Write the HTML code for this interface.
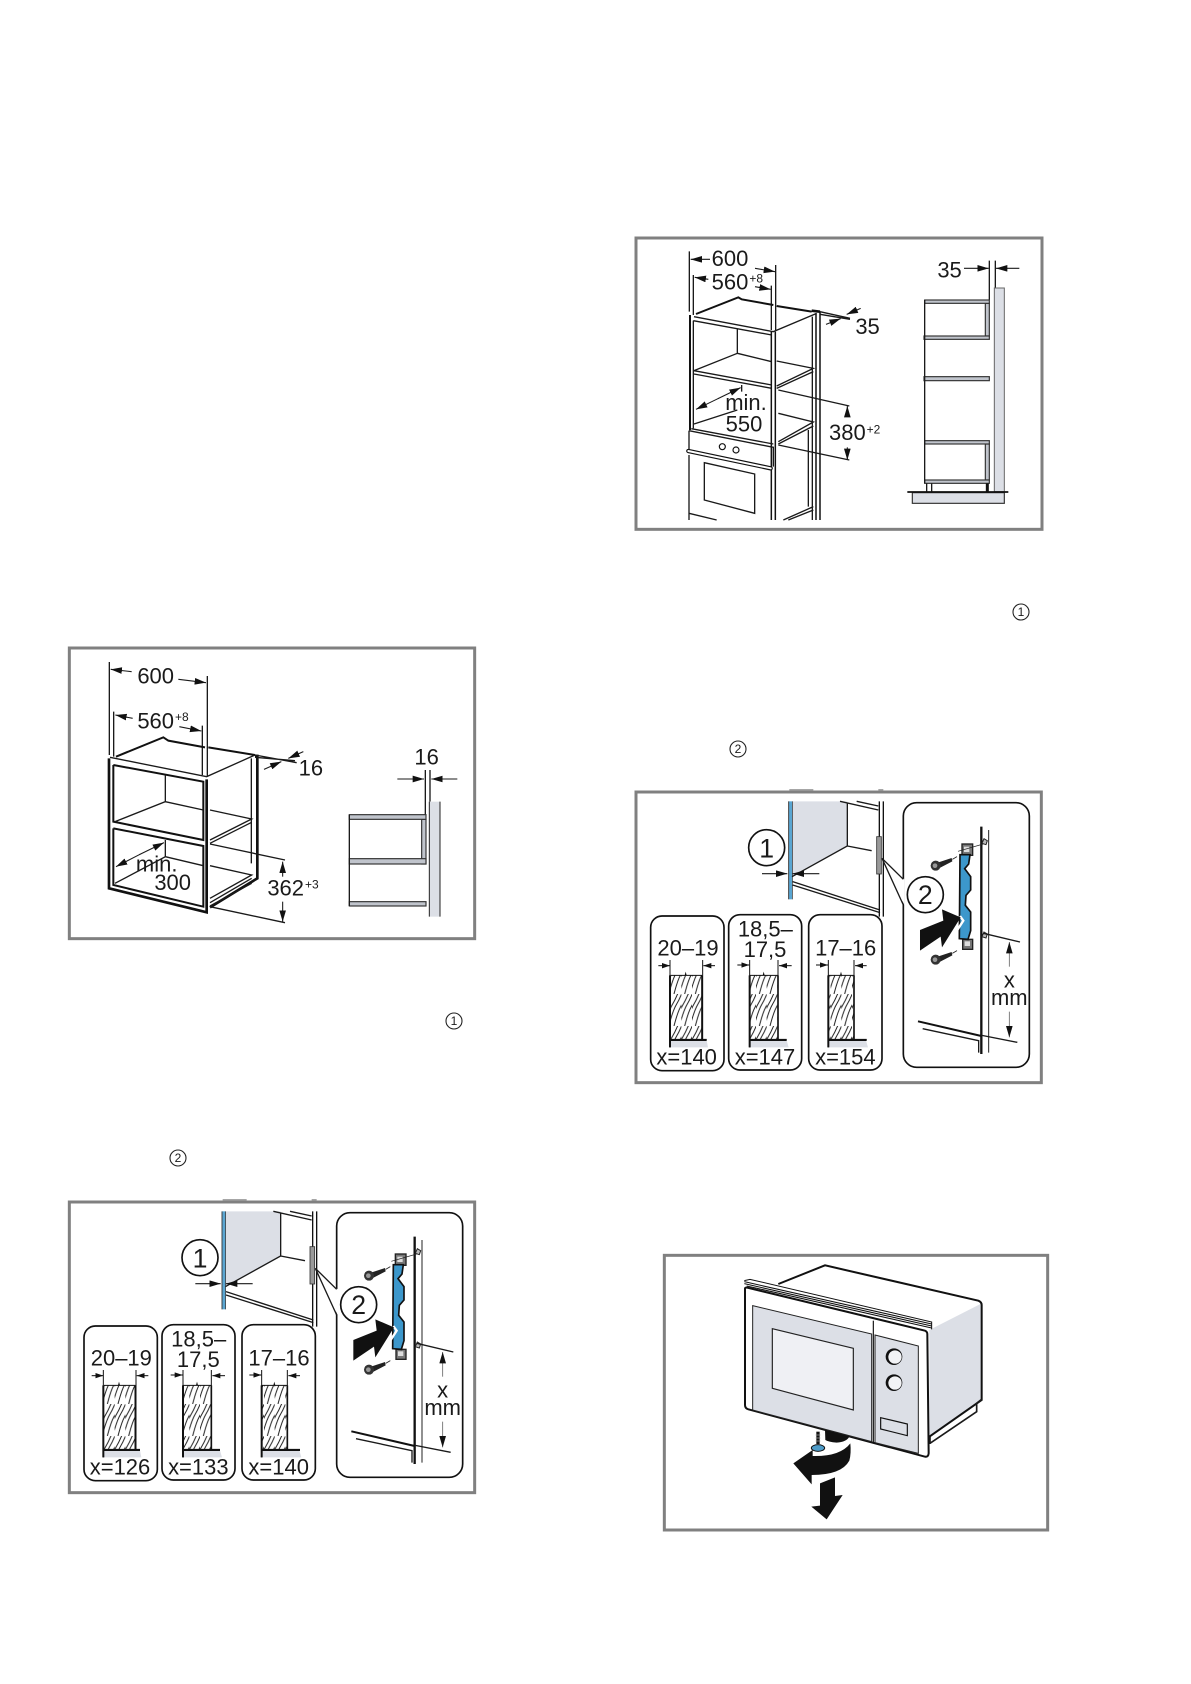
<!DOCTYPE html>
<html><head><meta charset="utf-8"><style>
html,body{margin:0;padding:0;background:#fff}
svg{display:block}
text{font-family:"Liberation Sans",sans-serif;fill:#1a1a1a}
.t{font-size:66px}.m{text-anchor:middle}.s{font-size:36px}.c{font-size:80px;text-anchor:middle}
.l{fill:none;stroke:#1a1a1a;stroke-width:4}
.k{fill:none;stroke:#111;stroke-width:8}
.h{fill:none;stroke:#111;stroke-width:6}
.a{fill:none;stroke:#1a1a1a;stroke-width:3.2;marker-end:url(#ar)}
.b{fill:none;stroke:#1a1a1a;stroke-width:3.2;marker-end:url(#sm)}
.f{fill:#fff;stroke:#808080;stroke-width:9}
.g{fill:#dcdfe6}.sh{fill:#c0c4cc;stroke:#333;stroke-width:3.5}
</style></head><body>
<svg xmlns="http://www.w3.org/2000/svg" width="1191" height="1684" viewBox="0 0 1191 1684">
<defs>
<marker id="ar" markerUnits="userSpaceOnUse" markerWidth="38" markerHeight="22" refX="34" refY="10" orient="auto"><path d="M0 0L34 10L0 20Z" fill="#111"/></marker>
<marker id="sm" markerUnits="userSpaceOnUse" markerWidth="28" markerHeight="18" refX="24" refY="8" orient="auto"><path d="M0 0L24 8L0 16Z" fill="#111"/></marker>
<pattern id="wood" patternUnits="userSpaceOnUse" width="32" height="96"><path d="M-6 96C2 70 6 50 18 30S28 8 34 -2M-20 96C-10 70 -6 50 6 30S16 8 22 -2M10 96C16 74 20 56 30 38S40 14 46 -2" fill="none" stroke="#222" stroke-width="3"/></pattern>
<g id="screw"><path d="M18 -12L60 -26L62 -16L20 6Z" fill="#222"/><path d="M62 -22L76 -30" stroke="#222" stroke-width="2.5"/><ellipse cx="12" cy="-3" rx="15" ry="15" fill="#333"/><ellipse cx="10" cy="-3" rx="7" ry="7" fill="#999"/></g>
<g id="mount">
<rect x="88" y="66" width="1216" height="872" class="f"/>
<path d="M548 60H620M815 60H830" stroke="#999" stroke-width="5"/>
<path class="g" d="M556 94H722V228L556 320Z"/>
<rect x="547" y="94" width="9" height="294" fill="#5aa6d2"/>
<path d="M546 94V388" stroke="#222" stroke-width="2.5"/><path d="M557 94V388" stroke="#222" stroke-width="2"/>
<path class="l" d="M722 100V228L556 320M722 228L795 242M700 94L815 120M750 94L815 108M558 335L820 420M558 345L820 428"/>
<path d="M818 94V440M830 94V440" stroke="#111" stroke-width="4"/>
<rect x="810" y="200" width="14" height="112" fill="#999" stroke="#333" stroke-width="2.5"/>
<circle cx="480" cy="233" r="54" fill="#fff" stroke="#111" stroke-width="5"/>
<path class="a" d="M466 311H542"/><path class="a" d="M638 311H558"/>
<rect x="890" y="98" width="378" height="794" rx="40" fill="#fff" stroke="#111" stroke-width="5"/>
<path d="M826 265L893 328V405Z" fill="#fff"/>
<path class="l" d="M826 265L890 328M826 265L890 405"/>
<circle cx="956" cy="374" r="54" fill="#fff" stroke="#111" stroke-width="5"/>
<path d="M1124 170V852" stroke="#111" stroke-width="7"/><path d="M1146 180V848" stroke="#222" stroke-width="3"/>
<rect x="1066" y="222" width="32" height="34" fill="#777" stroke="#222" stroke-width="4"/><rect x="1072" y="230" width="16" height="16" fill="#ddd"/>
<rect x="1068" y="508" width="30" height="30" fill="#777" stroke="#222" stroke-width="4"/><rect x="1074" y="514" width="16" height="14" fill="#ddd"/>
<path d="M1060 254L1090 254L1086 282L1074 296L1092 320L1092 360L1078 376L1076 406L1092 426L1092 482L1084 508L1058 506Z" fill="#3c97cb" stroke="#111" stroke-width="5"/>
<path d="M1132 206L1142 212L1138 224L1126 220Z" fill="#bbb" stroke="#222" stroke-width="3"/>
<path d="M1132 486L1142 492L1138 504L1126 500Z" fill="#bbb" stroke="#222" stroke-width="3"/>
<path d="M1054 244L1130 222" stroke="#222" stroke-width="2"/>
<path d="M1060 438L1070 452L1052 480" fill="none" stroke="#fff" stroke-width="7"/>
<path d="M940 480L1010 452L1006 418L1062 442L1006 532L1002 500L940 542Z" fill="#111"/>
<use href="#screw" x="975" y="290"/><use href="#screw" x="975" y="572"/>
<path class="l" d="M1130 490L1240 516M1120 795L1232 817"/>
<path d="M1208 590V516" stroke="#666" stroke-width="2.5" fill="none" marker-end="url(#ar)"/>
<path d="M1208 725V802" stroke="#666" stroke-width="2.5" fill="none" marker-end="url(#ar)"/>
<path d="M934 754L1124 798" stroke="#111" stroke-width="6"/><path class="l" d="M948 776L1116 812V848"/>
<rect x="132" y="438" width="220" height="464" rx="34" fill="none" stroke="#111" stroke-width="5"/>
<rect x="366" y="434" width="219" height="466" rx="34" fill="none" stroke="#111" stroke-width="5"/>
<rect x="606" y="434" width="220" height="466" rx="34" fill="none" stroke="#111" stroke-width="5"/>
<rect x="192" y="616" width="94" height="192" fill="url(#wood)"/><rect x="430" y="616" width="84" height="192" fill="url(#wood)"/><rect x="666" y="616" width="76" height="192" fill="url(#wood)"/>
<path class="g" d="M192 811H300L304 832H192ZM430 811H540L546 832H430ZM668 811H778L784 832H668Z"/>
<path d="M190 570V832M190 808H300M288 570V808M192 616H286M429 570V832M429 808H540M514 570V808M430 616H514M665 570V832M665 808H780M742 570V808M666 616H742" stroke="#111" stroke-width="3" fill="none"/>
<path d="M190 616V832M190 810H300M429 616V832M429 810H540M665 616V832M665 810H780" stroke="#111" stroke-width="6" fill="none"/>
<path d="M286 616V808M514 616V808M742 616V808" stroke="#111" stroke-width="5"/>
<path d="M234 616L237 605L240 616M468 616L471 605L474 616M700 616L703 605L706 616" fill="#111"/>
<path class="b" d="M155 587H190"/><path class="b" d="M325 587H290"/><path class="b" d="M392 585H428"/><path class="b" d="M555 587H517"/><path class="b" d="M628 585H664"/><path class="b" d="M780 587H745"/>
</g>
</defs>

<g transform="translate(40,620) scale(.33333)">
<rect x="88" y="84" width="1216" height="872" class="f"/>
<path class="l" d="M208 126V405M502 168V470M221 275V410M487 317V465"/>
<path class="a" d="M275 155L212 148"/><path class="a" d="M415 178L498 188"/><path class="a" d="M278 295L226 285"/><path class="a" d="M418 320L484 333"/>
<path class="h" d="M228 410L370 352L385 362L495 382M505 382L645 405"/>
<path class="l" d="M210 412L500 470L645 405M634 415V730"/>
<path class="k" d="M207 415V805L500 877V478M645 408H652V775L510 862"/>
<path class="h" d="M220 435V605L490 660V485L220 435M220 625V795L490 860V678L220 625"/>
<path class="l" d="M376 465V545L225 605M376 545L490 570M510 570L635 597L510 660M635 607L510 670M376 660V710L225 790M376 710L490 737M510 737L635 765L510 835M635 775L510 848M510 858L635 790"/>
<path class="l" d="M510 672L735 720M510 860L735 908"/>
<path class="a" d="M300 703L228 740"/><path class="a" d="M298 704L372 668"/><path class="a" d="M728 770V725"/><path class="a" d="M728 845V905"/>
<path class="l" d="M645 405L770 428M645 412L765 422"/>
<path class="a" d="M672 448L724 425"/><path class="a" d="M790 395L745 415"/>
<text class="t m" x="347" y="190">600</text>
<text class="t" x="292" y="325">560</text><text class="s" x="405" y="303">+8</text>
<text class="t m" x="350" y="755">min.</text><text class="t m" x="398" y="810">300</text>
<text class="t" x="682" y="827">362</text><text class="s" x="795" y="806">+3</text>
<text class="t" x="776" y="466">16</text><text class="t m" x="1160" y="434">16</text>
<path class="l" d="M1156 450V590M1170 450V545"/>
<path class="a" d="M1072 477H1152"/><path class="a" d="M1252 477H1174"/>
<rect x="1168" y="545" width="32" height="345" class="g"/><path d="M1168 545V890M1200 545V890" stroke="#222" stroke-width="3"/>
<rect x="1145" y="598" width="13" height="134" class="sh"/>
<rect x="928" y="584" width="230" height="14" class="sh"/><rect x="928" y="716" width="230" height="16" class="sh"/><rect x="928" y="845" width="230" height="13" class="sh"/>
<path class="l" d="M928 584V858"/>
</g>

<g transform="translate(40,1180) scale(.33333)">
<use href="#mount"/>
<text class="c" x="480" y="262">1</text><text class="c" x="956" y="402">2</text>
<text class="t m" x="244" y="556">20–19</text><text class="t m" x="476" y="499">18,5–</text><text class="t m" x="475" y="561">17,5</text><text class="t m" x="717" y="556">17–16</text>
<text class="t m" x="240" y="884">x=126</text><text class="t m" x="475" y="884">x=133</text><text class="t m" x="716" y="884">x=140</text>
<text class="t m" x="1208" y="652">x</text><text class="t m" x="1208" y="705">mm</text>
</g>

<g transform="translate(620,780) scale(.33333)">
<g transform="translate(-40,-30)"><use href="#mount"/>
<text class="c" x="480" y="262">1</text><text class="c" x="956" y="402">2</text>
<text class="t m" x="244" y="556">20–19</text><text class="t m" x="476" y="499">18,5–</text><text class="t m" x="475" y="561">17,5</text><text class="t m" x="717" y="556">17–16</text>
<text class="t m" x="240" y="884">x=140</text><text class="t m" x="475" y="884">x=147</text><text class="t m" x="716" y="884">x=154</text>
<text class="t m" x="1208" y="652">x</text><text class="t m" x="1208" y="705">mm</text>
</g></g>

<g transform="translate(620,220) scale(.33333)">
<rect x="48" y="54" width="1218" height="874" class="f"/>
<path class="l" d="M208 94V275M467 135V330M220 165V285M454 197V330"/>
<path class="a" d="M270 118L212 118"/><path class="a" d="M405 145L465 155"/><path class="a" d="M265 178L224 172"/><path class="a" d="M405 200L452 208"/>
<path class="h" d="M228 282L355 232L365 238L460 255M470 258L575 275"/>
<path d="M575 272L600 275" stroke="#111" stroke-width="8"/>
<path class="k" style="stroke-width:6" d="M210 285V630"/>
<path class="l" d="M222 290L460 335L590 280M220 302L455 345M220 302V625M352 325V400L222 452M352 400L455 425M470 423L580 445L470 498M580 455L470 505M222 452L455 495M222 462L455 505M222 612L352 570M475 580L580 606L475 665M580 618L475 672M577 290V900M565 630V860M580 860L490 900M580 870L505 900"/>
<path d="M454 335V900M466 335V900M588 280V900M600 275V900" stroke="#111" stroke-width="4.5" fill="none"/>
<path class="l" d="M207 632L460 682M214 626L460 672M207 632V690M207 705V900M460 680V740M253 728L404 762V880L253 840ZM207 880L290 900"/>
<path d="M205 693L452 745" stroke="#111" stroke-width="13" stroke-linecap="round"/><path d="M205 693L452 745" stroke="#fff" stroke-width="6" stroke-linecap="round"/>
<circle cx="307" cy="680" r="9" fill="#fff" stroke="#111" stroke-width="3.5"/><circle cx="348" cy="690" r="9" fill="#fff" stroke="#111" stroke-width="3.5"/>
<path class="l" d="M475 510L688 558M475 675L688 720M600 275L690 295M600 283L690 298M365 495V515"/>
<path class="a" d="M682 590V558"/><path class="a" d="M682 682V720"/><path class="a" d="M296 535L228 568"/><path class="a" d="M294 536L362 503"/><path class="a" d="M618 313L662 296"/><path class="a" d="M722 265L680 283"/>
<text class="t m" x="330" y="138">600</text>
<text class="t" x="275" y="208">560</text><text class="s" x="388" y="188">+8</text>
<text class="t m" x="378" y="570">min.</text><text class="t m" x="372" y="635">550</text>
<text class="t" x="627" y="660">380</text><text class="s" x="740" y="640">+2</text>
<text class="t" x="706" y="342">35</text><text class="t" x="952" y="172">35</text>
<path class="l" d="M1108 122V240M1126 122V205"/>
<path class="a" d="M1032 145H1106"/><path class="a" d="M1198 145H1128"/>
<rect x="1123" y="204" width="30" height="611" fill="#dcdfe6" stroke="#666" stroke-width="3"/>
<rect x="1096" y="250" width="12" height="98" class="sh"/><rect x="1096" y="672" width="12" height="108" class="sh"/>
<rect x="914" y="240" width="194" height="10" class="sh"/><rect x="912" y="348" width="196" height="10" class="sh"/><rect x="912" y="470" width="196" height="12" class="sh"/><rect x="914" y="662" width="194" height="10" class="sh"/><rect x="914" y="780" width="194" height="10" class="sh"/>
<path class="l" d="M914 240V790M920 790V815M935 790V815"/><path d="M1102 790V815" stroke="#111" stroke-width="9"/>
<rect x="877" y="818" width="276" height="32" fill="#dcdfe6" stroke="#333" stroke-width="3.5"/>
<path d="M862 816H1165" stroke="#111" stroke-width="5"/>
</g>

<g transform="translate(650,1240) scale(.33333)">
<rect x="43" y="46" width="1150" height="824" class="f"/>
<path class="g" d="M838 270L995 190V478L838 590Z"/>
<path class="h" d="M385 132L525 76L985 182Q995 186 995 195V480L838 590"/>
<path class="l" style="stroke-width:5" d="M995 478L980 490V515L840 610M840 590V612"/>
<path d="M285 145Q285 142 292 143L825 272Q832 275 832 282L836 640Q835 652 825 650L295 508Q285 505 285 495Z" fill="#fff" stroke="#111" stroke-width="6"/>
<path d="M283 125L845 252M283 131L845 258M290 138L845 264" stroke="#111" stroke-width="3.2" fill="none"/>
<path d="M283 122L300 118L845 246L845 268" stroke="#111" stroke-width="3" fill="none"/>
<path d="M308 197L665 282V605L308 510Z" fill="#dcdfe6" stroke="#222" stroke-width="3"/>
<path d="M367 266L610 325V510L367 445Z" fill="#eff0f4" stroke="#222" stroke-width="3.5"/>
<path d="M675 285L805 318V640L675 608Z" fill="#dcdfe6" stroke="#222" stroke-width="3"/>
<path d="M670 242V608" stroke="#111" stroke-width="3.5"/>
<circle cx="732" cy="350" r="25" fill="#111"/><circle cx="735" cy="351" r="20" fill="#f2f3f6"/>
<circle cx="732" cy="428" r="25" fill="#111"/><circle cx="735" cy="429" r="20" fill="#f2f3f6"/>
<path d="M692 533L772 552V587L692 567Z" fill="#dcdfe6" stroke="#111" stroke-width="3.5"/>
<path d="M525 570L598 590Q590 606 560 608Q535 606 526 600Z" fill="#111"/>
<path d="M601 610Q604 640 598 662Q575 705 485 705V733L430 670L488 630V648Q570 650 601 610Z" fill="#111"/>
<path d="M510 730L555 712V768L578 765L530 838L484 800L510 797Z" fill="#111"/>
<path d="M504 575V612" stroke="#111" stroke-width="10"/>
<path d="M497 585H511M497 594H511M497 603H511" stroke="#999" stroke-width="2"/>
<ellipse cx="504" cy="624" rx="20" ry="10" fill="#4e9cc9" stroke="#111" stroke-width="3"/>
</g>

<g fill="none" stroke="#222" stroke-width="1.1">
<circle cx="454" cy="1021" r="8"/><circle cx="178" cy="1158" r="8"/><circle cx="1021" cy="612" r="8"/><circle cx="738" cy="749" r="8"/>
</g>
<g style="font-size:12px" text-anchor="middle">
<text x="454" y="1025">1</text><text x="178" y="1162">2</text><text x="1021" y="616">1</text><text x="738" y="753">2</text>
</g>
</svg>
</body></html>
